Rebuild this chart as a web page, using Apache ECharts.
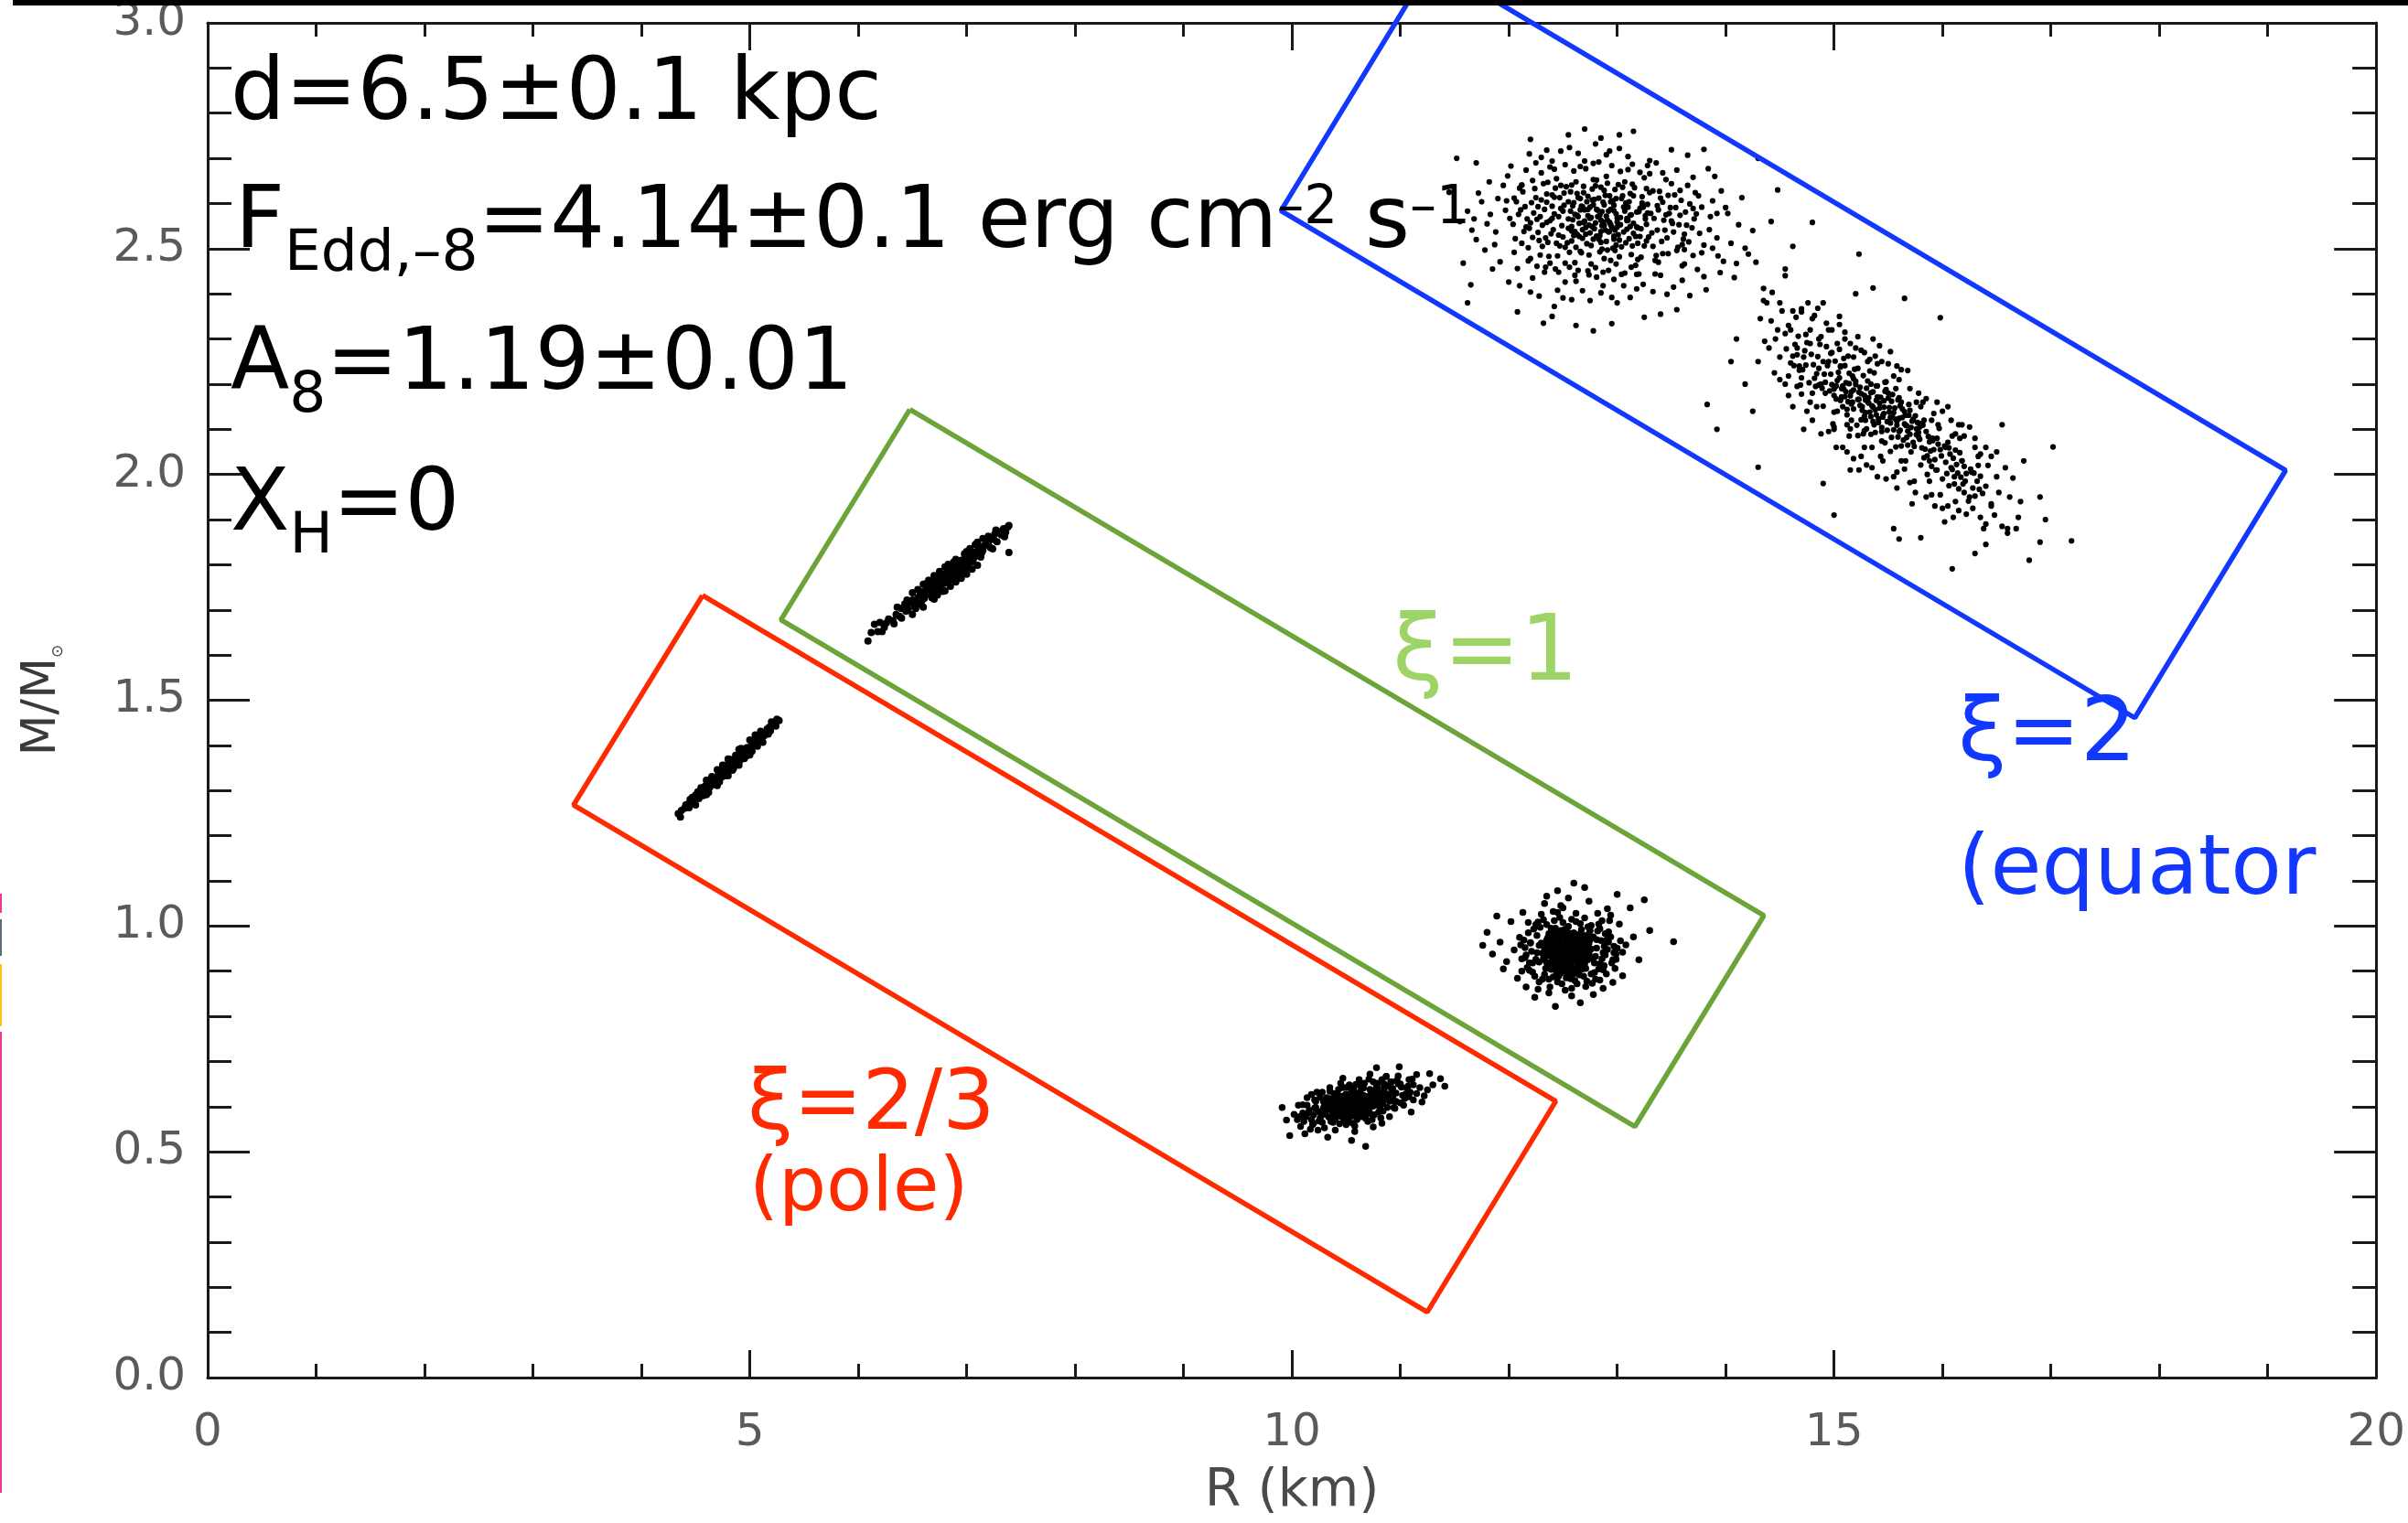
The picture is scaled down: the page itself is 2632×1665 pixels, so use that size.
<!DOCTYPE html>
<html><head><meta charset="utf-8">
<script src="https://cdn.jsdelivr.net/npm/echarts@6/dist/echarts.min.js"></script>
<style>html,body{margin:0;padding:0;background:#fff}#c{width:2632px;height:1665px}</style>
</head><body><div id="c"></div>
<script>
// ---- axes ----
const xRange = [0, 20];
const yRange = [0, 3];
const xLabelName = 'R (km)';
const yLabelName = 'M/M{s|⊙}';

// ---- rotated boxes (corner points, data units) ----
const boxPole = [[4.564,1.732],[12.434,0.612],[11.248,0.145],[3.375,1.268],[4.564,1.732]];
const boxXi1 = [[6.476,2.144],[14.353,1.023],[13.164,0.556],[5.287,1.678],[6.476,2.144]];
const boxEquator = [[11.290,3.132],[19.165,2.009],[17.774,1.461],[9.899,2.584],[11.290,3.132]];

// ---- posterior samples (flat x,y pairs) ----
const poleA = [4.80,1.353,4.76,1.339,4.85,1.365,4.72,1.335,4.88,1.366,4.68,1.327,4.92,1.381,4.78,1.350,4.65,1.315,4.95,1.380,4.82,1.352,4.62,1.314,4.98,1.395,4.74,1.347,4.70,1.326,5.01,1.394,4.83,1.362,4.58,1.299,5.04,1.408,4.79,1.343,4.66,1.325,4.90,1.370,4.55,1.299,5.07,1.407,4.86,1.360,4.63,1.307,4.96,1.390,4.73,1.333,4.52,1.288,5.10,1.423,4.81,1.360,4.69,1.322,4.93,1.372,4.60,1.312,5.02,1.399,4.77,1.345,4.49,1.283,5.13,1.421,4.87,1.373,4.64,1.321,4.99,1.388,4.75,1.340,4.46,1.272,5.16,1.436,4.84,1.356,4.57,1.306,5.05,1.414,4.71,1.336,4.43,1.270,5.19,1.432,4.89,1.376,4.61,1.302,4.94,1.385,4.67,1.321,4.40,1.261,5.22,1.449,4.91,1.367,4.54,1.291,5.08,1.416,4.78,1.356,4.37,1.256,5.24,1.443,4.97,1.394,4.50,1.290,5.11,1.414,4.34,1.249,5.27,1.455,4.36,1.241,5.25,1.458,4.45,1.280,5.15,1.429,4.53,1.282,5.03,1.402,4.59,1.310,4.96,1.383,4.41,1.268,5.18,1.440,4.47,1.276,5.12,1.426,4.56,1.295,5.06,1.403,4.64,1.313,4.87,1.362,
4.80,1.370,4.80,1.333,4.70,1.346,4.70,1.311,4.90,1.391,4.90,1.356,4.60,1.323,4.60,1.291,5.00,1.412,5.00,1.379,4.75,1.356,4.85,1.349,4.65,1.331,4.95,1.371,4.55,1.306,5.05,1.423,4.50,1.268,5.10,1.431,4.82,1.369,4.72,1.319,4.92,1.393,4.62,1.296,5.02,1.387,4.52,1.297,5.12,1.407,4.77,1.333,4.87,1.378,4.67,1.313,4.97,1.377,4.57,1.289,5.07,1.398,4.47,1.285,5.17,1.425,4.44,1.262,5.20,1.452,4.84,1.345,4.74,1.330,4.94,1.373,4.64,1.325,4.88,1.359];
const poleB = [10.60,0.606,10.48,0.597,10.71,0.618,10.55,0.588,10.66,0.625,10.42,0.611,10.78,0.604,10.52,0.620,10.63,0.592,10.37,0.590,10.74,0.631,10.58,0.613,10.45,0.579,10.69,0.600,10.50,0.608,10.81,0.622,10.40,0.598,10.62,0.584,10.56,0.629,10.73,0.610,10.34,0.602,10.67,0.614,10.47,0.621,10.59,0.596,10.85,0.634,10.43,0.586,10.64,0.607,10.53,0.576,10.76,0.616,10.39,0.609,10.61,0.627,10.49,0.602,10.70,0.592,10.57,0.617,10.31,0.583,10.80,0.607,10.44,0.615,10.65,0.597,10.54,0.611,10.72,0.638,10.36,0.594,10.60,0.621,10.46,0.591,10.77,0.626,10.51,0.614,10.68,0.582,10.41,0.604,10.63,0.633,10.29,0.597,10.83,0.612,10.55,0.601,10.74,0.619,10.38,0.581,10.59,0.589,10.48,0.624,10.66,0.609,10.88,0.627,10.44,0.600,10.62,0.615,10.52,0.593,10.79,0.640,10.35,0.608,10.70,0.623,10.57,0.580,10.46,0.612,10.64,0.599,10.27,0.589,10.75,0.601,10.50,0.628,10.61,0.603,10.42,0.592,10.86,0.619,10.55,0.617,10.67,0.594,10.39,0.616,10.73,0.628,10.58,0.605,10.47,0.585,10.82,0.630,10.33,0.612,10.65,0.620,10.53,0.598,10.71,0.607,10.45,0.623,10.60,0.586,10.77,0.613,10.37,0.600,10.62,0.630,10.49,0.590,10.90,0.624,10.56,0.623,10.68,0.611,10.41,0.584,10.54,0.607,10.80,0.617,10.32,0.593,10.63,0.602,10.51,0.580,10.74,0.635,10.44,0.609,10.69,0.590,10.58,0.626,10.36,0.618,10.84,0.606,10.47,0.603,10.61,0.611,10.72,0.598,10.40,0.595,10.57,0.632,10.66,0.603,
10.10,0.586,10.14,0.603,10.18,0.571,10.21,0.615,10.24,0.589,10.19,0.560,10.26,0.621,10.13,0.578,10.28,0.565,10.23,0.632,10.30,0.606,10.16,0.592,10.92,0.637,10.95,0.611,10.98,0.650,11.02,0.625,10.94,0.598,11.06,0.641,10.97,0.659,11.00,0.608,11.09,0.632,10.91,0.655,11.04,0.618,11.12,0.648,10.93,0.622,11.15,0.629,10.89,0.645,10.36,0.567,10.44,0.562,10.52,0.568,10.60,0.571,10.68,0.574,10.76,0.582,10.84,0.590,10.40,0.573,10.48,0.569,10.56,0.563,10.64,0.578,10.72,0.585,10.80,0.588,10.35,0.634,10.43,0.638,10.51,0.643,10.59,0.649,10.67,0.652,10.75,0.655,10.83,0.660,10.39,0.629,10.47,0.642,10.55,0.637,10.63,0.646,10.71,0.661,10.79,0.652,10.87,0.667,10.32,0.620,10.88,0.598,10.27,0.580,10.85,0.643,10.22,0.598,10.90,0.612,10.34,0.577,10.82,0.575,10.29,0.612,10.86,0.628,10.25,0.568,10.96,0.630,10.20,0.582,11.01,0.643,10.11,0.567,11.08,0.622,10.07,0.578,11.11,0.661,10.46,0.578,10.70,0.567,10.53,0.648,10.78,0.644,10.42,0.627,10.66,0.641,10.38,0.575,10.74,0.571,10.58,0.557,10.62,0.660,10.50,0.586,10.81,0.599,10.65,0.587,10.43,0.603,10.57,0.640,10.77,0.631,
10.15,0.586,11.05,0.628,10.20,0.563,11.00,0.650,10.10,0.604,11.12,0.615,10.22,0.612,10.95,0.596,10.05,0.571,11.18,0.642,10.24,0.548,11.08,0.660,9.98,0.536,11.25,0.637,10.18,0.627,10.98,0.668,9.91,0.598,11.37,0.662,10.30,0.553,10.92,0.655,10.08,0.556,11.20,0.610,10.35,0.642,10.90,0.578,10.12,0.540,11.30,0.648,10.68,0.512,10.99,0.688,10.26,0.574,11.03,0.603,10.45,0.652,10.83,0.563,10.02,0.583,11.15,0.671,10.40,0.548,10.87,0.667,10.21,0.597,11.10,0.588,10.58,0.545,10.72,0.672,9.95,0.570,11.22,0.624,10.33,0.532,10.78,0.686,10.14,0.620,11.41,0.645,10.50,0.560,10.93,0.640,10.06,0.603,11.27,0.673,10.62,0.655,10.55,0.525,10.28,0.632,11.07,0.645,10.17,0.550,10.96,0.612,10.38,0.565,10.85,0.650,10.75,0.555,10.47,0.663];
const xi1A = [6.80,1.771,6.75,1.752,6.85,1.784,6.72,1.765,6.88,1.770,6.64,1.745,6.93,1.800,6.78,1.758,6.69,1.738,6.97,1.795,6.83,1.786,6.60,1.726,7.02,1.817,6.76,1.772,6.66,1.751,6.90,1.779,6.57,1.733,7.06,1.811,6.81,1.760,6.71,1.757,6.95,1.810,6.53,1.712,7.10,1.830,6.86,1.775,6.62,1.742,6.99,1.797,6.74,1.744,6.48,1.716,7.14,1.827,6.84,1.792,6.68,1.753,7.04,1.823,6.79,1.777,6.44,1.697,7.18,1.845,6.91,1.793,6.59,1.722,7.01,1.802,6.73,1.760,6.50,1.722,7.08,1.819,6.87,1.790,6.63,1.734,6.96,1.802,6.77,1.767,6.41,1.704,7.22,1.838,6.82,1.764,6.65,1.748,7.12,1.838,6.70,1.742,6.55,1.727,6.94,1.787,6.38,1.686,7.25,1.856,6.89,1.795,6.61,1.738,7.05,1.806,6.78,1.775,6.46,1.701,7.16,1.842,6.67,1.740,6.84,1.771,6.35,1.690,7.28,1.851,6.98,1.812,6.58,1.740,7.09,1.825,6.74,1.771,6.52,1.707,7.20,1.850,6.92,1.782,6.32,1.676,7.32,1.866,6.80,1.760,6.63,1.748,7.03,1.812,6.70,1.758,6.45,1.710,7.13,1.822,6.86,1.795,6.28,1.680,7.35,1.862,6.56,1.717,7.00,1.794,6.76,1.763,6.22,1.652,7.38,1.884,6.94,1.803,6.66,1.736,7.07,1.828,6.26,1.671,7.30,1.873,6.15,1.668,6.18,1.652,7.39,1.827,7.39,1.887,6.09,1.631,6.20,1.672,7.34,1.880,7.26,1.868,6.12,1.650,6.24,1.661,7.36,1.872,6.40,1.703,7.15,1.832,6.54,1.716,6.97,1.806,6.68,1.745,
6.80,1.795,6.80,1.742,6.70,1.776,6.70,1.724,6.90,1.812,6.90,1.762,6.60,1.757,6.60,1.706,7.00,1.829,7.00,1.779,6.50,1.738,6.50,1.690,7.10,1.850,7.10,1.799,6.75,1.785,6.85,1.752,6.65,1.766,6.95,1.770,6.55,1.745,7.05,1.790,6.45,1.722,7.15,1.858,6.78,1.741,6.88,1.806,6.68,1.727,6.98,1.824,6.58,1.712,7.08,1.845,6.83,1.801,6.73,1.733,6.93,1.773,6.63,1.759,7.03,1.836,6.53,1.703,7.13,1.817,6.43,1.713,7.20,1.863,6.40,1.682,7.24,1.835,6.36,1.706,7.27,1.877,6.33,1.669,6.86,1.768,6.76,1.756,6.96,1.785,6.66,1.739,6.91,1.797,6.71,1.765,6.81,1.781,6.61,1.726];
const xi1B = [12.53,0.941,12.41,0.952,12.62,0.930,12.47,0.918,12.58,0.963,12.36,0.935,12.70,0.958,12.44,0.971,12.55,0.912,12.66,0.947,12.39,0.904,12.51,0.978,12.73,0.925,12.49,0.939,12.60,0.954,12.33,0.948,12.57,0.921,12.45,0.961,12.68,0.969,12.52,0.902,12.42,0.927,12.64,0.915,12.38,0.966,12.56,0.984,12.71,0.940,12.48,0.896,12.61,0.973,12.35,0.919,12.54,0.950,12.46,0.944,12.67,0.932,12.40,0.958,12.59,0.908,12.50,0.926,12.74,0.962,12.43,0.985,12.63,0.943,12.37,0.951,12.55,0.935,12.69,0.979,12.32,0.929,12.58,0.948,12.47,0.908,12.65,0.959,12.44,0.937,12.52,0.965,12.76,0.949,12.39,0.976,12.61,0.922,12.49,0.954,12.57,0.899,12.34,0.957,12.72,0.931,12.45,0.925,12.62,0.968,12.53,0.918,12.41,0.942,12.66,0.938,12.50,0.990,12.36,0.912,12.59,0.956,12.70,0.916,12.46,0.970,12.55,0.929,12.64,0.981,12.38,0.946,12.51,0.933,12.73,0.954,12.43,0.917,12.60,0.940,12.48,0.961,12.67,0.924,12.35,0.969,12.56,0.945,12.42,0.988,12.62,0.903,12.54,0.972,12.31,0.940,12.68,0.951,12.47,0.931,12.58,0.937,12.40,0.921,12.75,0.970,12.52,0.950,12.44,0.950,12.63,0.927,12.57,0.976,12.37,0.983,12.69,0.936,12.50,0.913,12.61,0.962,12.46,0.947,12.33,0.925,12.65,0.973,12.53,0.898,12.41,0.963,12.71,0.944,12.48,0.922,12.59,0.967,12.39,0.933,12.56,0.910,12.66,0.957,12.45,0.980,12.52,0.928,12.74,0.939,12.36,0.954,12.60,0.951,12.49,0.944,12.43,0.906,12.64,0.935,12.55,0.958,12.38,0.916,12.70,0.966,12.47,0.975,12.58,0.927,12.34,0.943,12.62,0.948,12.51,0.960,12.67,0.913,12.42,0.934,12.54,0.986,12.77,0.929,12.45,0.914,12.61,0.934,12.40,0.970,12.57,0.943,12.50,0.920,
12.15,0.952,12.22,0.918,12.18,0.985,12.26,0.941,12.12,0.927,12.29,0.997,12.24,0.889,12.20,0.963,12.27,1.009,12.31,0.882,12.17,0.908,12.28,0.957,12.80,0.933,12.85,0.968,12.88,0.912,12.82,0.989,12.91,0.948,12.79,0.897,12.94,0.976,12.86,0.927,12.97,0.955,12.83,1.004,12.90,0.894,12.99,0.938,13.03,0.967,12.93,1.012,12.81,0.951,12.87,0.941,12.78,0.976,12.84,0.916,12.35,1.003,12.42,1.012,12.50,1.008,12.58,1.015,12.66,1.005,12.73,0.998,12.39,0.995,12.47,1.019,12.55,0.999,12.62,1.010,12.70,1.018,12.76,1.001,12.37,0.882,12.45,0.876,12.53,0.885,12.61,0.879,12.69,0.889,12.76,0.894,12.33,0.893,12.41,0.887,12.49,0.872,12.57,0.883,12.65,0.892,12.72,0.878,12.44,0.899,12.68,0.905,12.59,0.893,12.36,0.974,12.74,0.983,12.30,0.962,12.79,0.918,12.25,0.926,12.92,0.964,12.21,0.944,12.96,0.925,12.14,0.969,13.00,0.951,12.19,0.902,12.89,0.983,12.23,0.993,12.84,0.880,12.32,1.014,12.77,0.873,12.48,0.990,12.63,0.896,12.54,0.903,12.43,0.995,12.67,0.992,12.39,0.910,12.71,0.906,12.60,0.985,12.46,0.889,12.75,0.990,12.34,0.906,12.52,0.993,12.64,0.901,12.40,0.982,12.56,0.889,12.70,0.978,12.28,0.920,12.81,0.970,12.26,0.979,12.87,0.903,12.16,0.936,13.05,0.942,12.11,0.958,12.98,0.906,12.62,1.028,12.45,1.030,12.58,0.862,12.38,0.865,
12.20,0.962,12.88,0.955,12.15,0.930,12.92,0.987,12.25,1.003,12.83,0.905,12.10,0.975,12.97,0.941,12.28,0.876,12.86,1.012,12.05,0.947,12.95,0.918,12.22,0.898,12.90,0.969,11.98,0.921,13.02,1.004,12.30,1.026,12.80,0.882,12.18,1.008,12.84,0.994,11.92,0.964,13.08,0.958,12.41,1.032,12.63,0.872,12.12,0.900,12.99,0.926,12.48,1.045,12.71,0.866,12.27,0.860,12.91,1.038,11.85,0.938,13.15,0.976,12.55,1.062,12.37,0.852,12.02,1.010,13.05,0.890,12.74,1.055,12.58,0.845,12.16,0.865,12.94,1.024,11.80,0.986,13.30,0.990,12.45,1.078,12.66,0.830,12.08,0.884,13.12,1.040,12.33,1.050,12.87,0.862,12.60,1.095,12.43,0.822,11.76,0.957,13.52,0.965,12.24,0.842,13.00,1.070,12.70,1.085,12.52,0.858,11.95,0.905,13.20,0.925,12.35,1.066,12.78,0.848,12.13,1.030,12.96,0.875,11.89,1.022,13.25,1.058,12.50,1.040,12.82,1.028,12.19,0.918,12.89,0.936];
const eqA = [12.85,2.563,12.42,2.614,13.21,2.527,12.67,2.491,13.05,2.636,12.31,2.552,13.48,2.578,12.94,2.474,12.58,2.641,13.33,2.505,12.76,2.569,12.15,2.593,13.62,2.532,12.89,2.618,12.50,2.526,13.12,2.574,12.37,2.483,13.40,2.612,12.71,2.547,12.99,2.508,12.24,2.633,13.55,2.496,12.81,2.652,12.46,2.571,13.27,2.554,12.62,2.503,13.08,2.601,12.19,2.545,13.71,2.566,12.92,2.537,12.55,2.604,13.17,2.463,12.33,2.587,13.44,2.541,12.73,2.616,13.02,2.482,12.28,2.518,13.59,2.607,12.86,2.499,12.44,2.655,13.24,2.592,12.65,2.556,13.35,2.474,12.09,2.576,12.97,2.584,12.52,2.468,13.14,2.643,12.39,2.533,13.66,2.515,12.78,2.597,12.21,2.602,13.50,2.561,12.91,2.645,12.60,2.529,13.30,2.624,12.47,2.506,13.09,2.543,12.35,2.621,13.76,2.534,12.83,2.521,12.57,2.583,13.19,2.512,12.26,2.565,13.42,2.489,12.69,2.638,13.00,2.559,12.40,2.594,13.57,2.553,12.88,2.478,12.13,2.626,13.26,2.573,12.63,2.622,13.04,2.504,12.49,2.551,13.37,2.595,12.74,2.486,12.30,2.608,13.63,2.581,12.95,2.606,12.54,2.513,13.15,2.617,12.18,2.502,13.46,2.524,12.80,2.557,12.43,2.634,13.22,2.481,12.66,2.586,13.07,2.648,12.36,2.514,13.53,2.619,12.90,2.572,12.61,2.469,13.32,2.535,12.23,2.579,12.98,2.631,12.51,2.623,13.11,2.522,12.72,2.511,13.69,2.546,12.41,2.542,12.87,2.603,13.28,2.598,12.59,2.564,12.04,2.554,13.45,2.575,12.77,2.632,13.01,2.531,12.32,2.644,13.60,2.509,12.84,2.493,12.48,2.589,13.18,2.548,12.68,2.523,13.39,2.627,12.27,2.536,12.93,2.558,12.56,2.492,13.23,2.615,12.38,2.562,13.73,2.577,12.79,2.609,12.14,2.538,13.49,2.591,12.96,2.501,12.64,2.613,13.13,2.487,12.45,2.484,13.34,2.567,12.70,2.561,13.06,2.592,12.22,2.651,13.58,2.574,12.82,2.585,12.53,2.637,13.20,2.582,12.34,2.524,13.41,2.516,12.75,2.535,12.99,2.611,12.11,2.586,13.64,2.552,12.88,2.629,12.58,2.517,13.29,2.526,12.40,2.619,13.10,2.563,12.66,2.494,13.52,2.537,12.29,2.571,12.91,2.497,12.50,2.583,13.16,2.635,12.72,2.604,13.38,2.586,12.17,2.566,13.03,2.553,12.61,2.576,13.47,2.618,12.85,2.514,12.44,2.512,13.25,2.506,12.69,2.624,13.70,2.589,12.25,2.613,12.97,2.528,12.55,2.545,13.12,2.622,12.36,2.647,13.56,2.503,12.80,2.639,12.07,2.604,13.31,2.578,12.63,2.532,12.94,2.587,12.47,2.613,13.19,2.476,12.76,2.507,13.43,2.563,12.31,2.505,13.01,2.642,12.57,2.626,13.61,2.521,12.86,2.551,12.20,2.557,13.27,2.633,12.67,2.594,13.08,2.513,12.42,2.577,13.51,2.556,12.93,2.617,12.52,2.503,13.22,2.544,12.73,2.573,13.36,2.485,12.12,2.641,12.89,2.541,12.60,2.602,13.15,2.534,12.35,2.558,13.67,2.599,12.98,2.496,
12.82,2.571,12.95,2.548,13.07,2.583,12.71,2.532,12.88,2.597,13.15,2.556,12.63,2.574,13.02,2.519,12.77,2.608,12.91,2.563,13.21,2.589,12.58,2.549,12.99,2.577,12.84,2.529,13.11,2.604,12.68,2.593,12.93,2.538,13.26,2.566,12.74,2.552,13.04,2.611,12.86,2.582,12.55,2.566,13.17,2.527,12.97,2.596,12.79,2.544,13.09,2.562,12.66,2.611,12.90,2.516,13.23,2.601,12.81,2.587,13.00,2.548,12.61,2.538,12.87,2.559,13.13,2.575,12.73,2.587,12.96,2.606,13.06,2.537,12.69,2.558,12.83,2.612,13.19,2.546,12.92,2.583,12.59,2.595,13.03,2.569,12.78,2.521,12.94,2.553,13.28,2.579,12.65,2.527,12.85,2.538,13.10,2.592,12.75,2.567,
12.05,2.612,12.20,2.478,13.85,2.542,13.75,2.617,12.12,2.512,13.92,2.578,12.30,2.668,13.60,2.462,12.43,2.455,13.45,2.653,12.01,2.567,13.80,2.508,12.25,2.690,13.35,2.444,12.60,2.672,13.18,2.443,12.80,2.458,12.95,2.684,12.38,2.468,13.65,2.640,12.16,2.548,13.54,2.591,12.64,2.452,13.10,2.675,11.98,2.606,13.88,2.501,12.52,2.686,13.38,2.470,12.71,2.677,13.25,2.657,12.27,2.593,13.70,2.485,12.34,2.459,13.50,2.644,12.87,2.448,13.03,2.671,12.10,2.634,13.78,2.592,12.48,2.640,13.13,2.459,12.56,2.459,13.30,2.666,12.76,2.466,12.92,2.452,12.18,2.473,13.58,2.629,12.66,2.682,13.07,2.446,12.42,2.676,13.42,2.603,12.83,2.692,12.99,2.466,12.22,2.525,13.62,2.498,12.35,2.603,13.33,2.628,12.73,2.451,13.21,2.669,12.46,2.530,12.62,2.648,12.90,2.660,13.14,2.506,12.58,2.539,13.05,2.617,12.29,2.486,13.47,2.489,12.78,2.653,13.27,2.517,12.68,2.542,12.97,2.521,12.40,2.567,13.37,2.541,12.85,2.636,13.09,2.567,12.51,2.596,13.23,2.596,12.75,2.592,12.94,2.604,12.64,2.571,13.00,2.568,12.88,2.551,12.81,2.528,13.18,2.581,12.70,2.586,12.98,2.541,12.84,2.574,13.12,2.549,12.77,2.549,
11.75,2.604,14.05,2.512,11.88,2.537,13.95,2.447,12.02,2.683,13.88,2.606,11.92,2.471,14.12,2.553,12.10,2.418,13.84,2.677,11.68,2.566,14.21,2.488,12.30,2.702,13.52,2.415,12.05,2.492,13.80,2.438,11.82,2.648,14.00,2.591,12.45,2.408,13.30,2.695,12.64,2.711,13.12,2.392,11.97,2.585,13.92,2.524,12.22,2.435,13.70,2.658,12.58,2.387,13.02,2.722,11.70,2.520,14.28,2.470,12.38,2.681,13.60,2.430,12.85,2.402,12.90,2.708,11.85,2.455,14.15,2.613,12.16,2.674,13.46,2.399,12.70,2.694,13.24,2.421,11.62,2.583,13.98,2.472,12.52,2.426,13.36,2.690,11.95,2.640,13.78,2.491,12.28,2.395,12.97,2.432,12.75,2.385,13.65,2.707,12.08,2.456,13.86,2.571,12.48,2.716,13.10,2.704,11.78,2.497,14.08,2.436,12.33,2.448,13.55,2.674,12.95,2.392,12.62,2.428,11.90,2.611,14.25,2.540,12.19,2.710,13.40,2.441,12.80,2.732,13.18,2.411,11.66,2.541,13.90,2.660,12.42,2.372,13.06,2.418,12.00,2.426,13.74,2.454,12.56,2.724,13.28,2.684,11.83,2.576,14.18,2.501,12.26,2.461,13.50,2.719,12.87,2.418,12.68,2.407,12.12,2.641,13.96,2.628,12.40,2.694,13.62,2.466,11.72,2.623,14.02,2.578,12.74,2.442,13.33,2.405,12.93,2.716,12.06,2.522,13.82,2.409,12.50,2.391,13.14,2.687,11.87,2.509,14.10,2.467,12.35,2.718,13.72,2.624,12.61,2.441,13.00,2.380,11.99,2.661,13.42,2.668,12.81,2.437,12.20,2.404,13.93,2.484,12.46,2.448,13.20,2.444,11.80,2.555,13.67,2.396,12.78,2.689,13.04,2.443,
11.45,2.625,11.58,2.468,14.80,2.558,15.23,2.488,14.42,2.560,14.55,2.455,12.78,2.318,12.62,2.330,13.02,2.752,12.85,2.745,11.52,2.700,14.35,2.412,12.40,2.350,13.55,2.365,11.65,2.420,14.48,2.630,12.20,2.742,13.25,2.348,12.95,2.334,11.55,2.560,14.62,2.505,12.55,2.752,13.80,2.720,12.08,2.360,14.30,2.700,11.70,2.690,13.40,2.355,12.70,2.765,14.38,2.380,11.62,2.380,13.15,2.760,12.32,2.335];
const eqB = [15.35,2.152,14.92,2.204,15.78,2.093,15.10,2.241,15.62,2.063,14.75,2.292,16.05,2.071,15.25,2.121,15.48,2.188,14.60,2.247,16.21,1.985,15.02,2.167,15.70,2.142,14.88,2.305,15.90,2.018,15.31,2.207,15.55,2.099,14.68,2.231,16.12,2.054,15.18,2.145,15.82,2.109,14.97,2.268,15.41,2.115,16.30,1.952,15.08,2.196,15.66,2.131,14.82,2.213,15.95,2.080,15.28,2.175,15.52,2.051,14.55,2.312,16.08,2.015,15.14,2.224,15.74,2.062,15.00,2.138,15.38,2.093,16.18,2.030,14.72,2.260,15.60,2.170,15.22,2.086,15.86,2.041,14.94,2.241,15.46,2.135,16.35,1.996,15.05,2.277,15.68,2.096,14.80,2.180,16.00,1.990,15.33,2.229,15.58,2.118,14.64,2.288,16.15,1.968,15.16,2.183,15.88,2.072,14.98,2.199,15.44,2.074,16.26,2.012,15.12,2.132,15.72,2.118,14.85,2.261,15.92,2.055,15.26,2.150,15.50,2.169,14.70,2.214,16.10,2.036,15.20,2.206,15.80,2.021,14.90,2.151,15.36,2.183,16.40,1.974,15.04,2.226,15.64,2.076,14.78,2.320,15.97,2.102,15.30,2.101,15.56,2.147,14.58,2.218,16.04,2.002,15.09,2.257,15.76,2.088,14.96,2.185,15.42,2.158,16.24,1.941,15.15,2.101,15.84,2.056,14.86,2.235,16.02,2.063,15.24,2.193,15.53,2.082,14.66,2.265,16.14,2.003,15.06,2.164,15.69,2.155,14.93,2.283,15.39,2.132,16.32,1.985,15.19,2.233,15.61,2.098,14.74,2.242,15.93,2.033,15.34,2.089,15.47,2.204,14.83,2.195,16.07,2.045,15.11,2.183,15.85,2.095,15.01,2.251,15.57,2.061,16.20,2.018,14.62,2.262,15.27,2.219,15.75,2.130,14.99,2.112,15.43,2.171,16.28,1.970,15.13,2.262,15.65,2.112,14.77,2.203,15.89,2.052,15.29,2.137,15.54,2.126,14.56,2.278,16.11,1.979,15.17,2.160,15.79,2.078,14.91,2.222,15.37,2.110,16.37,1.958,15.07,2.190,15.67,2.082,14.87,2.288,16.03,2.027,15.23,2.166,15.51,2.138,14.69,2.198,16.16,2.048,15.03,2.208,15.71,2.104,14.95,2.250,15.40,2.196,16.22,2.002,15.21,2.109,15.83,2.037,14.81,2.243,15.96,2.067,15.32,2.170,15.59,2.083,14.73,2.274,16.09,2.011,15.18,2.212,15.77,2.115,14.89,2.191,15.45,2.127,16.29,2.003,15.10,2.172,15.63,2.145,14.84,2.223,15.99,2.041,15.34,2.128,15.49,2.098,14.63,2.241,16.13,2.022,15.14,2.201,15.81,2.059,15.00,2.189,15.39,2.164,16.19,1.979,15.25,2.179,15.73,2.071,14.79,2.266,15.94,2.010,15.28,2.097,15.60,2.124,14.67,2.306,16.06,2.059,15.12,2.144,15.87,2.084,14.97,2.222,15.46,2.149,16.34,1.967,15.06,2.238,15.66,2.109,14.86,2.198,15.91,2.075,15.31,2.161,15.52,2.114,14.71,2.232,16.17,1.994,15.16,2.156,
15.32,2.158,15.45,2.131,15.18,2.187,15.58,2.109,15.26,2.142,15.40,2.172,15.63,2.126,15.11,2.203,15.51,2.148,15.36,2.117,15.70,2.089,15.22,2.166,15.47,2.184,15.05,2.214,15.55,2.137,15.30,2.191,15.67,2.108,15.15,2.174,15.42,2.147,15.76,2.101,15.28,2.129,15.53,2.162,15.09,2.189,15.38,2.143,15.61,2.152,15.20,2.199,15.49,2.117,15.73,2.122,15.34,2.181,15.02,2.196,15.57,2.122,15.24,2.153,15.44,2.104,15.65,2.139,15.13,2.161,15.39,2.196,15.52,2.126,15.29,2.165,15.78,2.083,15.17,2.218,15.46,2.163,15.60,2.095,15.33,2.138,15.07,2.172,15.69,2.131,15.41,2.123,15.23,2.182,15.54,2.177,15.36,2.149,15.81,2.113,
14.50,2.380,14.50,2.210,14.62,2.362,14.70,2.178,14.80,2.345,14.84,2.150,14.95,2.320,15.00,2.105,15.10,2.300,15.14,2.085,15.25,2.275,15.28,2.060,15.40,2.245,15.43,2.040,15.55,2.218,15.58,2.005,15.70,2.190,15.74,1.985,15.85,2.168,15.90,1.955,16.00,2.140,16.05,1.930,16.15,2.110,16.22,1.912,16.30,2.080,16.40,1.890,16.50,2.050,16.60,1.880,14.58,2.330,14.68,2.240,14.78,2.290,14.88,2.200,14.98,2.270,15.08,2.150,15.18,2.260,15.27,2.090,15.37,2.225,15.47,2.070,15.57,2.190,15.66,2.030,15.76,2.160,15.86,2.000,15.96,2.110,16.06,1.975,16.16,2.080,16.25,1.950,16.35,2.045,16.45,1.930,14.74,2.310,14.92,2.180,15.03,2.290,15.16,2.120,15.31,2.250,15.44,2.095,15.59,2.165,15.71,2.050,15.83,2.120,15.95,2.010,16.09,2.085,16.20,1.960,16.33,2.020,16.52,1.960,14.66,2.280,14.86,2.300,15.06,2.240,15.22,2.235,15.34,2.200,15.50,2.180,15.62,2.160,15.79,2.105,15.91,2.080,16.03,2.060,16.18,2.030,16.27,2.005,15.12,2.110,15.35,2.060,15.62,2.030,15.88,2.030,16.11,1.995,14.90,2.250,15.00,2.175,15.48,2.205,15.68,2.065,15.98,2.055,16.12,1.940,15.29,2.120,
14.35,2.385,16.55,1.885,14.45,2.225,16.45,2.040,14.52,2.362,16.62,1.950,14.40,2.280,16.70,1.905,14.85,2.368,15.85,1.950,15.05,2.332,15.70,1.982,15.22,2.305,15.55,1.995,14.65,2.348,16.35,1.905,14.95,2.095,15.95,2.160,15.38,2.262,15.30,2.021,14.58,2.175,16.25,2.105,15.45,2.030,15.15,2.290,14.75,2.140,16.05,2.150,15.62,2.232,15.08,2.060,14.30,2.250,16.50,1.995,15.75,1.960,14.90,2.380,16.15,1.920,15.25,2.040,15.50,2.245,14.70,2.360,16.40,2.060,14.48,2.320,16.60,1.870,15.92,2.135,15.02,2.060,15.65,2.012,15.20,2.280,14.80,2.120,16.00,1.925,15.42,2.285,15.35,2.015,14.55,2.200,16.30,2.060,14.42,2.340,16.65,1.992,15.80,2.150,15.10,2.315,15.58,1.970,14.98,2.320,16.10,1.905,14.62,2.150,16.45,1.935,15.28,2.270,15.72,1.935,14.36,2.295,16.72,1.940,15.88,1.985,15.18,2.035,14.76,2.380,16.20,2.085,15.48,1.990,15.00,2.100,15.98,1.955,14.66,2.195,16.38,1.880,15.60,2.210,14.93,2.335,16.08,2.120,15.33,2.255,14.50,2.260,16.58,2.015,15.78,2.180,15.12,2.050,14.88,2.090,16.28,1.925,15.40,1.995,15.68,2.230,14.32,2.345,16.48,1.910,15.05,2.350,15.90,2.120,14.72,2.100,16.18,2.110,15.52,2.272,14.46,2.300,16.68,1.880,15.23,2.010,15.82,2.160,14.82,2.352,16.02,1.895,15.36,2.300,15.58,2.240,14.60,2.320,16.42,2.020,15.15,2.010,15.93,1.930,14.78,2.160,16.12,2.090,15.44,2.250,15.03,2.140,16.33,2.040,
13.83,2.155,13.92,2.100,14.30,2.016,17.19,1.853,17.02,2.061,16.90,1.950,16.90,1.850,16.09,1.791,15.60,1.857,15.00,1.910,15.36,2.413,14.43,2.403,15.98,2.347,14.70,2.367,14.18,2.200,16.80,1.810,16.55,2.110,14.10,2.300,15.80,1.860,16.30,1.825,15.20,2.400,14.55,2.440,16.75,2.030,14.25,2.140,15.55,1.880,16.95,1.900,14.05,2.250,15.65,2.390,16.40,1.845,14.90,1.980];

// ---- annotation texts ----
const infoLines = [
  '{m|d=6.5±0.1 kpc}',
  '{m|F}{b|Edd,–8}{m|=4.14±0.1 erg cm}{s|–2}{m| s}{s|–1}',
  '{m|A}{b|8}{m|=1.19±0.01}',
  '{m|X}{b|H}{m|=0}'
];
const xiLabels = ['ξ=1', 'ξ=2', '(equator', 'ξ=2/3', '(pole)'];

function pairs(a){ const out=[]; for(let i=0;i<a.length;i+=2) out.push([a[i],a[i+1]]); return out; }

const FF = "'DejaVu Sans',sans-serif";
const AF = "'DejaVu Sans',sans-serif";
const chart = echarts.init(document.getElementById('c'), null, {renderer:'canvas'});

const axisCommon = {
  type:'value', splitLine:{show:false},
  axisLine:{show:true, onZero:false, lineStyle:{color:'#1a1a1a', width:3}},
};
function xAx(pos, show){
  return Object.assign({}, axisCommon, {
    position:pos, min:xRange[0], max:xRange[1], interval:5,
    axisTick:{show:true, inside:true, length:30, lineStyle:{color:'#1a1a1a', width:3}},
    minorTick:{show:true, splitNumber:5, length:15, lineStyle:{color:'#1a1a1a', width:3}},
    axisLabel:{show:show, margin:36, fontSize:50, color:'#5a5a5a', fontFamily:AF},
    name: show ? xLabelName : '', nameLocation:'middle', nameGap:97,
    nameTextStyle:{fontSize:57, color:'#4a4a4a', fontFamily:AF}
  });
}
function yAx(pos, show){
  return Object.assign({}, axisCommon, {
    position:pos, min:yRange[0], max:yRange[1], interval:0.5,
    axisTick:{show:true, inside:true, length:46, lineStyle:{color:'#1a1a1a', width:3}},
    minorTick:{show:true, splitNumber:5, length:26, lineStyle:{color:'#1a1a1a', width:3}},
    axisLabel:{show:show, margin:24, fontSize:50, color:'#5a5a5a', fontFamily:AF, formatter:v=>v.toFixed(1)},
    name: show ? yLabelName : '', nameLocation:'middle', nameGap:155, nameRotate:90,
    nameTextStyle:{fontSize:52, color:'#3a3a3a', fontFamily:AF,
      rich:{s:{fontSize:17, lineHeight:17, verticalAlign:'bottom', color:'#3a3a3a', fontFamily:AF}}}
  });
}

function scat(d, size){
  return {type:'scatter', data:pairs(d), symbol:'circle', symbolSize:size,
    itemStyle:{color:'#000', opacity:1}, silent:true, z:2};
}
function box(d, color, clip){
  return {type:'line', data:d, symbol:'none', clip:clip, silent:true, z:3,
    lineStyle:{color:color, width:5.5}};
}

const rich = {
  m:{fontSize:94, fontFamily:FF, fill:'#000', padding:[30,0,0,0], verticalAlign:'top'},
  b:{fontSize:63, fontFamily:FF, fill:'#000', padding:[78,0,0,0], verticalAlign:'top'},
  s:{fontSize:58, fontFamily:FF, fill:'#000', padding:[31,0,0,0], verticalAlign:'top'}
};
const infoPos = [[252,29],[257,169],[252,324],[252,478]];
const graphics = infoLines.map((t,i)=>({type:'text', x:infoPos[i][0], y:infoPos[i][1], z:10,
  style:{text:t, rich:rich, align:'left', verticalAlign:'top', fill:'#000', fontFamily:FF, fontSize:94}}));

const xiStyle = [
  {x:1522,y:667,fs:100,c:'#9cd465'},
  {x:2140,y:758,fs:96,c:'#1238ff'},
  {x:2140,y:908,fs:91,c:'#1238ff'},
  {x:817,y:1166,fs:90,c:'#ff2a00'},
  {x:819,y:1261,fs:82,c:'#ff2a00'}
];
xiLabels.forEach((t,i)=>{
  const s = xiStyle[i];
  graphics.push({type:'text', x:s.x, y:s.y, z:10,
    style:{text:t, fontSize:s.fs, fontFamily:FF, fill:s.c, align:'left', verticalAlign:'top'}});
});
// scan artefacts at the picture edges
graphics.push({type:'rect', shape:{x:14,y:0,width:2618,height:6}, style:{fill:'#000'}, z:20});
[[977,998,'#f2388c'],[1005,1045,'#5d6b78'],[1054,1122,'#ffc20e'],[1128,1632,'#f2388c']].forEach(r=>{
  graphics.push({type:'rect', shape:{x:0,y:r[0],width:2,height:r[1]-r[0]}, style:{fill:r[2]}, z:20});
});

chart.setOption({
  animation:false,
  backgroundColor:'#fff',
  grid:{left:227, right:33, top:10, bottom:154, containLabel:false},
  xAxis:[xAx('bottom', true), xAx('top', false)],
  yAxis:[yAx('left', true), yAx('right', false)],
  series:[
    scat(poleA,8), scat(poleB,7.5), scat(xi1A,8), scat(xi1B,7.5), scat(eqA,6.2), scat(eqB,6.2),
    box(boxPole,'#ff2a00',true), box(boxXi1,'#6ba53a',true), box(boxEquator,'#1238ff',false)
  ],
  graphic:graphics
});
</script></body></html>
